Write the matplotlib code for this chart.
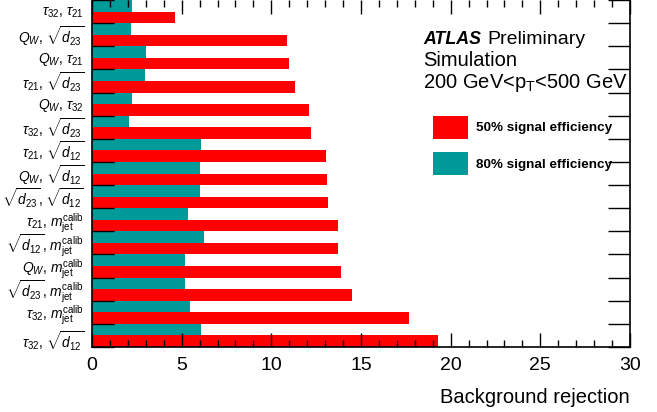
import matplotlib
matplotlib.use('Agg')
import matplotlib.pyplot as plt
from matplotlib.ticker import MultipleLocator, FixedLocator
from matplotlib.transforms import ScaledTranslation
import numpy as np

plt.rcParams['font.family'] = ['Liberation Sans', 'DejaVu Sans']
plt.rcParams['mathtext.fontset'] = 'custom'
plt.rcParams['mathtext.rm'] = 'Liberation Sans'
plt.rcParams['mathtext.it'] = 'Liberation Sans:italic'
plt.rcParams['mathtext.bf'] = 'Liberation Sans:bold'

# variable pairs, bottom to top
labels = [
    r'$\tau_{32}$, $\sqrt{d_{12}}$',
    r'$\tau_{32}$, $m_{\rm jet}^{\rm calib}$',
    r'$\sqrt{d_{23}}$, $m_{\rm jet}^{\rm calib}$',
    r'$Q_{W}$, $m_{\rm jet}^{\rm calib}$',
    r'$\sqrt{d_{12}}$, $m_{\rm jet}^{\rm calib}$',
    r'$\tau_{21}$, $m_{\rm jet}^{\rm calib}$',
    r'$\sqrt{d_{23}}$, $\sqrt{d_{12}}$',
    r'$Q_{W}$, $\sqrt{d_{12}}$',
    r'$\tau_{21}$, $\sqrt{d_{12}}$',
    r'$\tau_{32}$, $\sqrt{d_{23}}$',
    r'$Q_{W}$, $\tau_{32}$',
    r'$\tau_{21}$, $\sqrt{d_{23}}$',
    r'$Q_{W}$, $\tau_{21}$',
    r'$Q_{W}$, $\sqrt{d_{23}}$',
    r'$\tau_{32}$, $\tau_{21}$',
]

# background rejection at 50% and 80% signal efficiency
rej_50 = [19.31, 17.68, 14.48, 13.90, 13.72, 13.70, 13.14, 13.09, 13.05,
          12.20, 12.10, 11.34, 11.00, 10.86, 4.63]
rej_80 = [6.08, 5.47, 5.19, 5.20, 6.25, 5.37, 6.02, 6.02, 6.08,
          2.08, 2.23, 2.96, 3.01, 2.17, 2.25]

red = '#ff0000'
teal = '#009a98'

fig = plt.figure(figsize=(6.57, 4.12), dpi=100)
ax = fig.add_axes([92/657, 65/412, 538/657, 347/412])

y = np.arange(len(labels))
b50 = ax.barh(y - 0.25, rej_50, height=0.5, color=red, label='50% signal efficiency')
b80 = ax.barh(y + 0.25, rej_80, height=0.5, color=teal, label='80% signal efficiency')

ax.set_xlim(0, 30)
ax.set_ylim(-0.5, len(labels) - 0.5)

ax.set_yticks(y + 0.05)
ax.set_yticklabels(labels, fontsize=10)
ax.yaxis.set_minor_locator(FixedLocator(np.arange(-0.5, len(labels), 1.0)))
ax.tick_params(axis='y', which='major', length=0, pad=6)
ax.tick_params(axis='y', which='minor', direction='in', length=16, right=True, width=1)

# nudge the lowest label down a little so it clears the one above
lowest = ax.get_yticklabels()[0]
lowest.set_transform(lowest.get_transform() + ScaledTranslation(0, -3/72, fig.dpi_scale_trans))

ax.xaxis.set_major_locator(MultipleLocator(5))
ax.xaxis.set_minor_locator(MultipleLocator(1))
ax.tick_params(axis='x', which='major', direction='in', length=10, top=True, labelsize=14, pad=7, width=1)
ax.tick_params(axis='x', which='minor', direction='in', length=5, top=True, width=1)

ax.spines['top'].set_visible(False)
for s in ['left', 'bottom', 'right']:
    ax.spines[s].set_linewidth(1.2)

ax.set_xlabel('Background rejection', fontsize=14.5, loc='right', labelpad=10)

fig.text(423/657, 1 - 44/412, 'ATLAS', fontsize=12.8, fontweight='bold', fontstyle='italic')
fig.text(487/657, 1 - 44/412, 'Preliminary', fontsize=14)
fig.text(423/657, 1 - 66/412, 'Simulation', fontsize=14.5)
fig.text(423/657, 1 - 88/412, r'200 GeV<p$_{\rm T}$<500 GeV', fontsize=14.5)

ax.legend(handles=[b50, b80], loc='upper left', bbox_to_anchor=(433/657, 1 - 116/412),
          bbox_transform=fig.transFigure, frameon=False, borderpad=0, borderaxespad=0,
          handlelength=2.6, handleheight=2.2, labelspacing=1.0, handletextpad=0.6,
          prop={'weight': 'bold', 'size': 9.7})

fig.savefig('out.png', dpi=100)
